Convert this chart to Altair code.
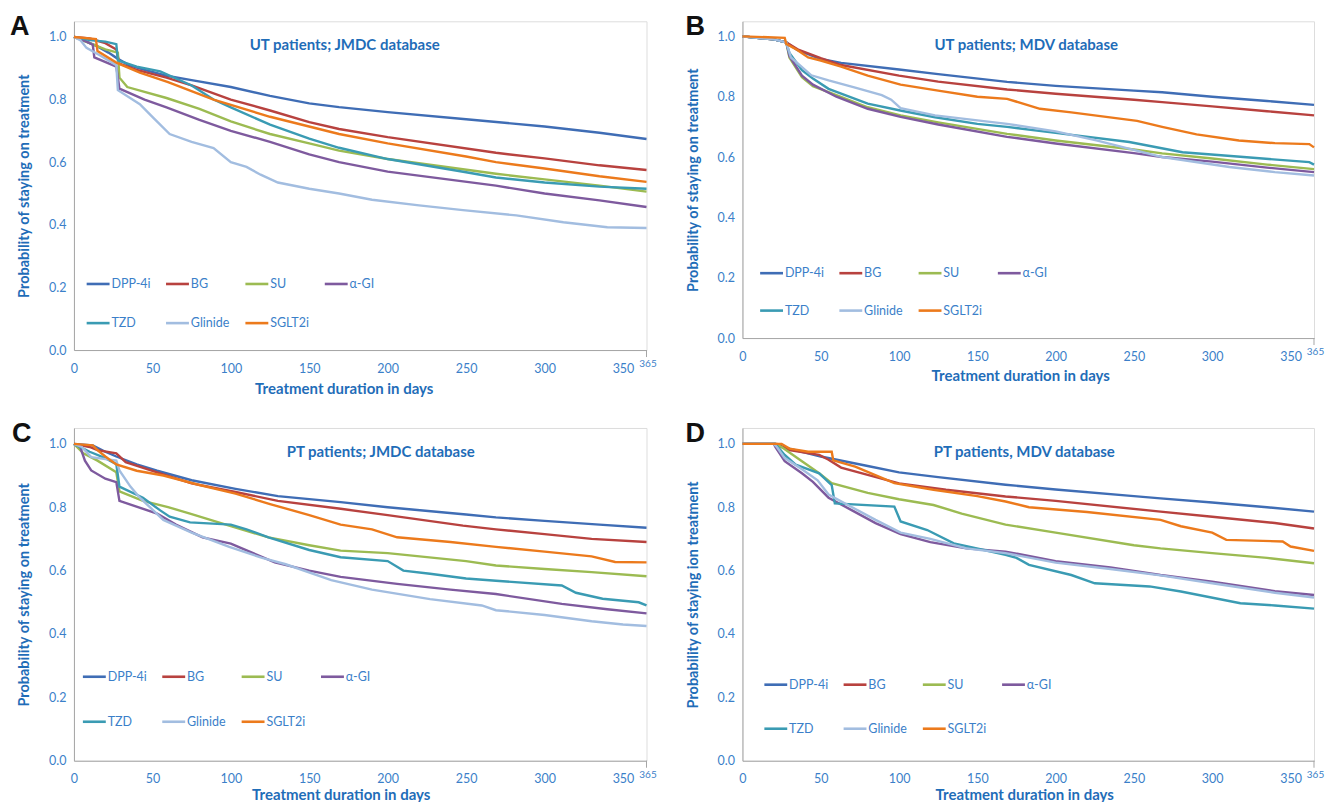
import altair as alt
import pandas as pd

SERIES = ["DPP-4i", "BG", "SU", "α-GI", "TZD", "Glinide", "SGLT2i"]
COLORS = ["#3F6DB5", "#B8423F", "#9CBB52", "#7E5A9E", "#3A9BB3", "#A2BDE0", "#EC7A1C"]
X_TICKS = [0, 50, 100, 150, 200, 250, 300, 350]
Y_TICKS = [0.0, 0.2, 0.4, 0.6, 0.8, 1.0]
END_DAY = [365]
END_LABEL = ["365"]
LETTERS = ["A", "B", "C", "D"]
TITLES = ["UT patients; JMDC database", "UT patients; MDV database",
          "PT patients; JMDC database", "PT patients, MDV database"]
Y_TITLES = ["Probability of staying on  treatment", "Probability of staying on  treatment",
            "Probability of staying on  treatment", "Probability of staying ion treatment"]
X_TITLE = "Treatment duration in days"

# ---- Panel A: UT patients; JMDC ----
A_DPP4I = [[0, 1.0], [8, 0.985], [15, 0.97], [22, 0.95], [28, 0.93], [35, 0.91], [45, 0.895], [59, 0.876], [75, 0.862], [100, 0.84], [125, 0.812], [150, 0.788], [169, 0.776], [200, 0.76], [250, 0.737], [300, 0.714], [335, 0.694], [365, 0.674]]
A_BG = [[0, 1.0], [10, 0.995], [20, 0.98], [27, 0.96], [29, 0.915], [40, 0.895], [59, 0.87], [75, 0.845], [100, 0.80], [125, 0.765], [150, 0.728], [169, 0.706], [200, 0.68], [269, 0.63], [300, 0.612], [335, 0.59], [365, 0.575]]
A_SU = [[0, 1.0], [10, 0.98], [20, 0.96], [28, 0.95], [29, 0.87], [34, 0.84], [59, 0.805], [80, 0.77], [100, 0.73], [125, 0.69], [150, 0.66], [169, 0.637], [200, 0.61], [269, 0.563], [300, 0.545], [335, 0.525], [365, 0.506]]
A_AGI = [[0, 1.0], [8, 0.985], [12, 0.975], [13, 0.935], [27, 0.905], [29, 0.835], [45, 0.80], [59, 0.775], [80, 0.735], [100, 0.70], [125, 0.665], [150, 0.625], [169, 0.60], [200, 0.57], [269, 0.525], [300, 0.50], [335, 0.478], [365, 0.457]]
A_TZD = [[0, 1.0], [10, 0.99], [20, 0.985], [27, 0.977], [28, 0.925], [40, 0.905], [55, 0.89], [75, 0.845], [89, 0.80], [100, 0.775], [125, 0.72], [150, 0.675], [169, 0.646], [200, 0.61], [250, 0.568], [269, 0.551], [300, 0.535], [335, 0.522], [365, 0.515]]
A_GLINIDE = [[0, 1.0], [4, 0.99], [8, 0.965], [17, 0.94], [27, 0.91], [28, 0.83], [42, 0.785], [50, 0.745], [61, 0.69], [75, 0.665], [89, 0.645], [100, 0.60], [110, 0.585], [119, 0.56], [130, 0.535], [150, 0.515], [169, 0.50], [190, 0.48], [220, 0.462], [248, 0.447], [282, 0.43], [312, 0.408], [340, 0.392], [365, 0.39]]
A_SGLT2I = [[0, 1.0], [14, 0.993], [15, 0.955], [27, 0.918], [42, 0.886], [60, 0.856], [89, 0.80], [125, 0.745], [169, 0.69], [200, 0.66], [250, 0.618], [269, 0.60], [300, 0.58], [335, 0.555], [365, 0.537]]

# ---- Panel B: UT patients; MDV ----
B_DPP4I = [[0, 1.0], [20, 0.99], [28, 0.98], [35, 0.955], [50, 0.925], [63, 0.912], [100, 0.89], [125, 0.875], [169, 0.849], [200, 0.836], [250, 0.82], [268, 0.815], [300, 0.80], [335, 0.786], [365, 0.773]]
B_BG = [[0, 1.0], [20, 0.99], [28, 0.98], [36, 0.955], [50, 0.928], [63, 0.905], [100, 0.87], [125, 0.85], [169, 0.824], [200, 0.81], [250, 0.79], [268, 0.782], [300, 0.768], [335, 0.752], [365, 0.738]]
B_SU = [[0, 1.0], [20, 0.99], [28, 0.98], [30, 0.93], [38, 0.865], [45, 0.835], [60, 0.805], [80, 0.765], [101, 0.738], [125, 0.715], [169, 0.677], [200, 0.655], [250, 0.625], [268, 0.612], [300, 0.595], [335, 0.575], [365, 0.56]]
B_AGI = [[0, 1.0], [20, 0.99], [28, 0.98], [30, 0.935], [38, 0.87], [45, 0.84], [60, 0.80], [80, 0.76], [101, 0.733], [125, 0.708], [169, 0.667], [200, 0.645], [250, 0.613], [268, 0.60], [300, 0.585], [335, 0.565], [365, 0.55]]
B_TZD = [[0, 1.0], [20, 0.99], [28, 0.98], [30, 0.945], [38, 0.888], [45, 0.86], [55, 0.826], [80, 0.777], [100, 0.755], [123, 0.732], [150, 0.71], [169, 0.70], [200, 0.68], [247, 0.65], [281, 0.616], [320, 0.60], [362, 0.583], [365, 0.575]]
B_GLINIDE = [[0, 1.0], [20, 0.99], [28, 0.98], [31, 0.93], [44, 0.871], [55, 0.854], [72, 0.83], [89, 0.805], [95, 0.79], [101, 0.762], [123, 0.738], [169, 0.71], [200, 0.685], [226, 0.655], [268, 0.60], [311, 0.567], [340, 0.55], [365, 0.539]]
B_SGLT2I = [[0, 1.0], [27, 0.995], [28, 0.975], [35, 0.955], [42, 0.93], [50, 0.92], [63, 0.90], [80, 0.87], [101, 0.84], [125, 0.82], [150, 0.80], [169, 0.793], [190, 0.76], [210, 0.748], [252, 0.72], [268, 0.70], [290, 0.675], [317, 0.655], [340, 0.646], [362, 0.643], [365, 0.632]]

# ---- Panel C: PT patients; JMDC ----
C_DPP4I = [[0, 1.0], [12, 0.995], [20, 0.975], [27, 0.96], [40, 0.935], [53, 0.915], [75, 0.885], [103, 0.858], [130, 0.835], [170, 0.816], [200, 0.80], [250, 0.777], [269, 0.768], [300, 0.757], [335, 0.745], [365, 0.735]]
C_BG = [[0, 1.0], [10, 0.99], [15, 0.98], [27, 0.97], [33, 0.942], [53, 0.91], [75, 0.875], [103, 0.848], [130, 0.82], [170, 0.795], [200, 0.775], [248, 0.742], [269, 0.73], [300, 0.715], [330, 0.70], [365, 0.69]]
C_SU = [[0, 1.0], [6, 0.97], [15, 0.947], [27, 0.91], [29, 0.85], [44, 0.82], [60, 0.80], [74, 0.78], [100, 0.74], [124, 0.705], [150, 0.68], [170, 0.663], [200, 0.655], [250, 0.63], [269, 0.616], [300, 0.605], [330, 0.595], [365, 0.582]]
C_AGI = [[0, 1.0], [4, 0.99], [7, 0.947], [11, 0.916], [20, 0.89], [27, 0.879], [29, 0.82], [53, 0.78], [65, 0.745], [82, 0.705], [100, 0.685], [128, 0.626], [150, 0.60], [170, 0.58], [206, 0.558], [240, 0.54], [269, 0.526], [311, 0.495], [340, 0.478], [365, 0.465]]
C_TZD = [[0, 1.0], [10, 0.975], [20, 0.955], [27, 0.936], [29, 0.865], [44, 0.83], [55, 0.79], [61, 0.77], [74, 0.752], [100, 0.745], [110, 0.73], [124, 0.705], [150, 0.665], [170, 0.642], [200, 0.63], [210, 0.60], [227, 0.59], [250, 0.575], [269, 0.568], [311, 0.553], [320, 0.53], [337, 0.511], [360, 0.50], [365, 0.49]]
C_GLINIDE = [[0, 1.0], [5, 0.99], [11, 0.958], [27, 0.947], [29, 0.916], [36, 0.865], [42, 0.83], [57, 0.76], [75, 0.72], [99, 0.675], [120, 0.64], [135, 0.62], [164, 0.57], [190, 0.54], [227, 0.51], [260, 0.49], [269, 0.475], [300, 0.46], [330, 0.44], [350, 0.43], [365, 0.425]]
C_SGLT2I = [[0, 1.0], [12, 0.995], [15, 0.98], [20, 0.96], [27, 0.935], [40, 0.915], [57, 0.90], [80, 0.87], [103, 0.843], [125, 0.81], [150, 0.775], [170, 0.745], [190, 0.73], [206, 0.705], [240, 0.69], [269, 0.675], [300, 0.66], [330, 0.645], [345, 0.627], [365, 0.626]]

# ---- Panel D: PT patients, MDV ----
D_DPP4I = [[0, 1.0], [21, 1.0], [25, 0.99], [38, 0.975], [50, 0.96], [80, 0.93], [100, 0.91], [125, 0.895], [168, 0.871], [200, 0.856], [250, 0.835], [267, 0.828], [300, 0.815], [335, 0.80], [365, 0.786]]
D_BG = [[0, 1.0], [22, 1.0], [30, 0.98], [49, 0.965], [55, 0.95], [63, 0.925], [80, 0.902], [100, 0.875], [130, 0.855], [168, 0.834], [200, 0.82], [267, 0.786], [300, 0.77], [340, 0.75], [365, 0.733]]
D_SU = [[0, 1.0], [21, 1.0], [25, 0.99], [38, 0.945], [49, 0.907], [57, 0.876], [80, 0.845], [100, 0.825], [122, 0.807], [140, 0.78], [168, 0.745], [200, 0.72], [250, 0.68], [267, 0.67], [300, 0.655], [335, 0.64], [365, 0.623]]
D_AGI = [[0, 1.0], [20, 1.0], [21, 0.99], [27, 0.945], [38, 0.907], [45, 0.88], [55, 0.83], [70, 0.79], [85, 0.75], [101, 0.715], [120, 0.69], [143, 0.67], [168, 0.66], [200, 0.63], [235, 0.61], [267, 0.586], [300, 0.565], [340, 0.535], [365, 0.523]]
D_TZD = [[0, 1.0], [21, 1.0], [27, 0.965], [34, 0.934], [49, 0.907], [57, 0.87], [59, 0.812], [97, 0.802], [101, 0.755], [118, 0.728], [135, 0.686], [168, 0.65], [175, 0.64], [183, 0.618], [210, 0.586], [225, 0.56], [260, 0.55], [280, 0.534], [318, 0.497], [340, 0.49], [365, 0.48]]
D_GLINIDE = [[0, 1.0], [20, 1.0], [22, 0.99], [27, 0.955], [38, 0.92], [48, 0.885], [55, 0.84], [70, 0.80], [85, 0.76], [101, 0.72], [120, 0.70], [143, 0.67], [168, 0.655], [200, 0.625], [235, 0.605], [267, 0.585], [300, 0.56], [340, 0.53], [365, 0.515]]
D_SGLT2I = [[0, 1.0], [25, 1.0], [30, 0.985], [42, 0.975], [57, 0.975], [58, 0.948], [72, 0.928], [97, 0.876], [122, 0.855], [150, 0.835], [168, 0.818], [183, 0.80], [220, 0.785], [267, 0.76], [280, 0.74], [300, 0.72], [309, 0.697], [345, 0.692], [350, 0.676], [365, 0.662]]

PANEL_CURVES = [
    [A_DPP4I, A_BG, A_SU, A_AGI, A_TZD, A_GLINIDE, A_SGLT2I],
    [B_DPP4I, B_BG, B_SU, B_AGI, B_TZD, B_GLINIDE, B_SGLT2I],
    [C_DPP4I, C_BG, C_SU, C_AGI, C_TZD, C_GLINIDE, C_SGLT2I],
    [D_DPP4I, D_BG, D_SU, D_AGI, D_TZD, D_GLINIDE, D_SGLT2I],
]

# ---- styling / layout (not data) ----
FONT = "Lato"
TITLE_BLUE = "#1F6DB8"
LABEL_BLUE = "#3B7FC9"
GREY = "#A6A6A6"
FRAME = "#A9C4E6"

LAYOUT = [
    # w, h, in-plot title x, x-axis title x, x-title padding, legend x0 (days), legend rows, letter x
    dict(w=573, h=329, tx=271, ax=270, tp=7, lx=8.1, ly=[0.211, 0.086], bx=-64),
    dict(w=572, h=317, tx=284, ax=278, tp=6, lx=11.3, ly=[0.215, 0.091], bx=-57),
    dict(w=573, h=333, tx=307, ax=267, tp=2, lx=5.7, ly=[0.265, 0.123], bx=-62),
    dict(w=572, h=333, tx=282, ax=282, tp=2, lx=14.0, ly=[0.240, 0.101], bx=-57),
]
LEG_DX = 50.6
LEG_LEN = 14.6


def curves_df(curves):
    rows = []
    for name, pts in zip(SERIES, curves):
        for d, v in pts:
            rows.append({"drug": name, "day": d, "prob": v})
    return pd.DataFrame(rows)


def make_panel(i):
    L = LAYOUT[i]
    w, h = L["w"], L["h"]
    xs = alt.Scale(domain=[0, 365], nice=False, zero=False)
    ys = alt.Scale(domain=[0, 1.05], nice=False, zero=False)
    color = alt.Color("drug:N", scale=alt.Scale(domain=SERIES, range=COLORS), legend=None)
    xaxis = alt.Axis(values=X_TICKS, ticks=False, grid=False, domainColor=GREY, labelFlush=False,
                     labelColor=LABEL_BLUE, labelFont=FONT, labelFontSize=12.5, labelPadding=12,
                     title=X_TITLE, titleColor=TITLE_BLUE, titleFont=FONT, titleFontSize=15,
                     titleFontWeight="bold", titlePadding=L["tp"], titleX=L["ax"],
                     titleAlign="center")
    yaxis = alt.Axis(values=Y_TICKS, format=".1f", ticks=False, grid=False, domainColor=GREY,
                     labelFlush=False,
                     labelColor=LABEL_BLUE, labelFont=FONT, labelFontSize=12.5, labelPadding=8,
                     title=Y_TITLES[i], titleColor=TITLE_BLUE, titleFont=FONT, titleFontSize=14.5,
                     titleFontWeight="bold", titlePadding=17)

    lines = alt.Chart(curves_df(PANEL_CURVES[i])).mark_line(strokeWidth=2.4).encode(
        x=alt.X("day:Q", scale=xs, axis=xaxis),
        y=alt.Y("prob:Q", scale=ys, axis=yaxis),
        color=color,
        order="day:Q",
    )

    leg = pd.DataFrame({"drug": SERIES})
    leg["col"] = [k % 4 for k in range(len(SERIES))]
    leg["row"] = [k // 4 for k in range(len(SERIES))]
    leg["x0"] = L["lx"] + leg["col"] * LEG_DX
    leg["x1"] = leg["x0"] + LEG_LEN
    leg["tx"] = leg["x1"] + 1.2
    leg["prob"] = [L["ly"][r] for r in leg["row"]]

    leg_rule = alt.Chart(leg).mark_rule(strokeWidth=2.6).encode(
        x="x0:Q", x2="x1:Q", y="prob:Q", color=color)
    leg_text = alt.Chart(leg).mark_text(align="left", baseline="middle", font=FONT,
                                        fontSize=12.5, color=LABEL_BLUE).encode(
        x="tx:Q", y="prob:Q", text="drug:N")

    end_df = pd.DataFrame({"day": END_DAY, "lab": END_LABEL})
    end_tick = alt.Chart(end_df).mark_rule(color=GREY, strokeWidth=1).encode(
        x="day:Q", y=alt.value(h), y2=alt.value(h + 7))
    end_lab = alt.Chart(end_df).mark_text(font=FONT, fontSize=10, color=LABEL_BLUE,
                                          align="center", baseline="middle", dx=1.5).encode(
        x="day:Q", y=alt.value(h + 14), text="lab:N")

    title = alt.Chart(pd.DataFrame({"t": [TITLES[i]]})).mark_text(
        font=FONT, fontSize=15, fontWeight="bold", color=TITLE_BLUE,
        align="center", baseline="middle").encode(
        x=alt.value(L["tx"]), y=alt.value(24), text="t:N")

    letter = alt.Chart(pd.DataFrame({"t": [LETTERS[i]]})).mark_text(
        font="Liberation Sans", fontSize=27, fontWeight="bold", color="#111111",
        align="left", baseline="alphabetic").encode(
        x=alt.value(L["bx"]), y=alt.value(14), text="t:N")

    return alt.layer(lines, leg_rule, leg_text, end_tick, end_lab, title, letter).properties(
        width=w, height=h)


chart = alt.concat(
    make_panel(0), make_panel(1), make_panel(2), make_panel(3),
    columns=2, spacing={"row": 78, "column": 96}, bounds="flush",
).properties(
    padding={"left": 1, "top": 4, "right": 0, "bottom": 0}
).configure_view(stroke=FRAME, strokeWidth=1).configure(background="white")

chart.save("out.html", embed_options={"renderer": "svg", "actions": False})
